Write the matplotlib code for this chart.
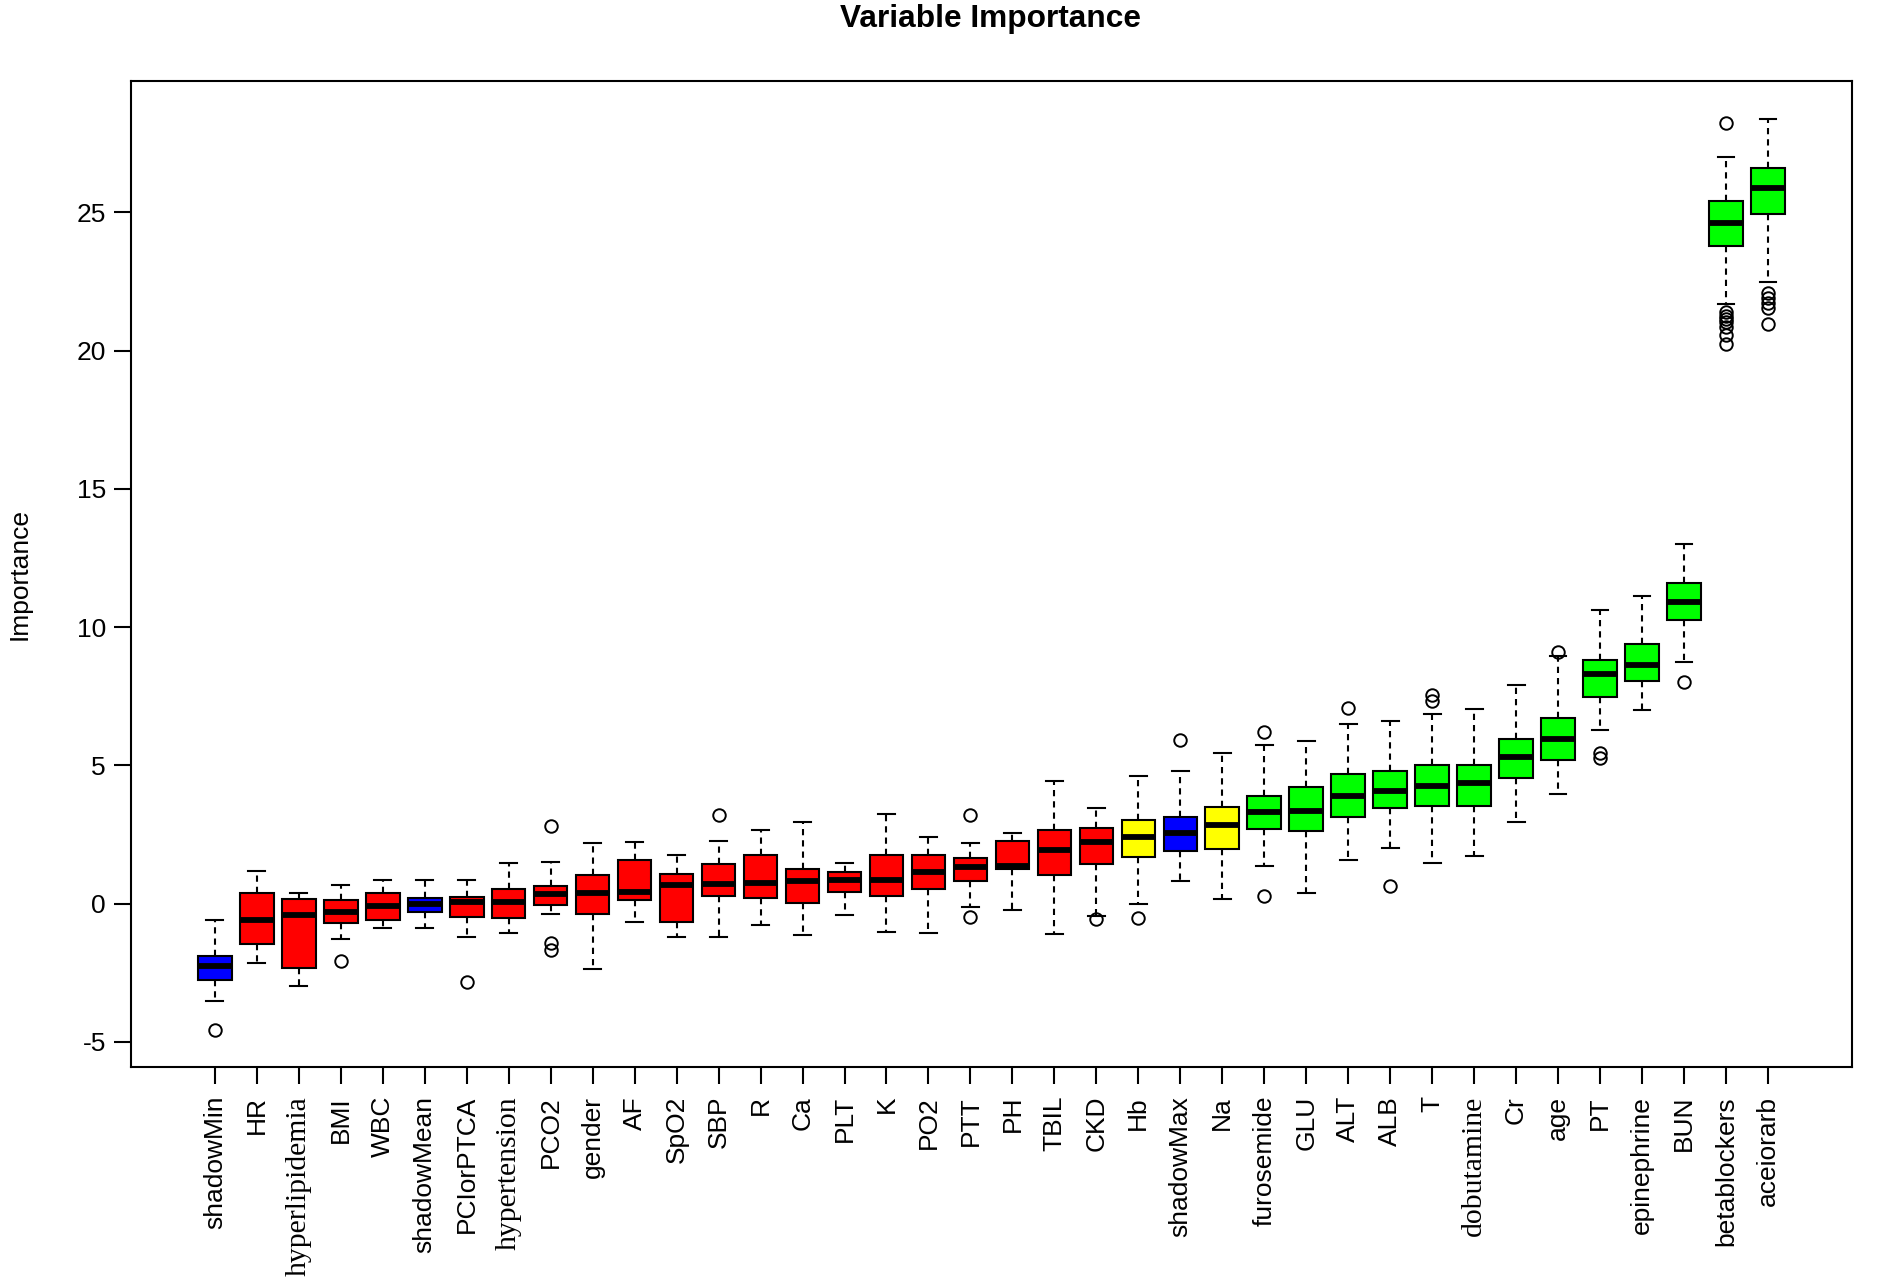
import matplotlib
matplotlib.use("Agg")
import matplotlib.pyplot as plt

names = ["shadowMin", "HR", "hyperlipidemia", "BMI", "WBC", "shadowMean", "PCIorPTCA",
         "hypertension", "PCO2", "gender", "AF", "SpO2", "SBP", "R", "Ca", "PLT", "K",
         "PO2", "PTT", "PH", "TBIL", "CKD", "Hb", "shadowMax", "Na", "furosemide", "GLU",
         "ALT", "ALB", "T", "dobutamine", "Cr", "age", "PT", "epinephrine", "BUN",
         "betablockers", "aceiorarb"]

decision = ["shadow", "rejected", "rejected", "rejected", "rejected", "shadow", "rejected",
            "rejected", "rejected", "rejected", "rejected", "rejected", "rejected", "rejected",
            "rejected", "rejected", "rejected", "rejected", "rejected", "rejected", "rejected",
            "rejected", "tentative", "shadow", "tentative", "confirmed", "confirmed",
            "confirmed", "confirmed", "confirmed", "confirmed", "confirmed", "confirmed",
            "confirmed", "confirmed", "confirmed", "confirmed", "confirmed"]

whishi = [-0.61, 1.17, 0.37, 0.69, 0.85, 0.87, 0.84, 1.48, 1.52, 2.19, 2.23, 1.76, 2.25,
          2.65, 2.95, 1.47, 3.25, 2.41, 2.18, 2.54, 4.45, 3.46, 4.63, 4.78, 5.44, 5.75,
          5.89, 6.48, 6.59, 6.84, 7.03, 7.91, 8.94, 10.62, 11.14, 13.01, 27.01, 28.39]
q3 = [-1.89, 0.37, 0.17, 0.13, 0.40, 0.22, 0.25, 0.54, 0.65, 1.05, 1.58, 1.06, 1.42,
      1.77, 1.24, 1.16, 1.75, 1.76, 1.66, 2.28, 2.66, 2.72, 3.04, 3.12, 3.48, 3.91,
      4.23, 4.70, 4.81, 5.02, 5.02, 5.96, 6.70, 8.82, 9.38, 11.58, 25.40, 26.60]
med = [-2.27, -0.61, -0.42, -0.29, -0.07, -0.01, 0.05, 0.05, 0.35, 0.38, 0.42, 0.67, 0.72,
       0.75, 0.83, 0.85, 0.87, 1.14, 1.31, 1.36, 1.93, 2.24, 2.41, 2.54, 2.85, 3.30,
       3.34, 3.90, 4.09, 4.25, 4.36, 5.32, 5.94, 8.30, 8.64, 10.90, 24.61, 25.88]
q1 = [-2.77, -1.47, -2.33, -0.70, -0.59, -0.31, -0.47, -0.53, -0.05, -0.38, 0.14, -0.66,
      0.27, 0.20, 0.04, 0.42, 0.27, 0.52, 0.83, 1.26, 1.02, 1.44, 1.68, 1.92, 1.97, 2.69,
      2.64, 3.13, 3.44, 3.54, 3.53, 4.54, 5.21, 7.46, 8.06, 10.26, 23.77, 24.95]
whislo = [-3.53, -2.15, -2.99, -1.29, -0.90, -0.88, -1.21, -1.05, -0.36, -2.35, -0.65,
          -1.21, -1.22, -0.76, -1.12, -0.41, -1.03, -1.08, -0.12, -0.23, -1.10, -0.45,
          -0.01, 0.82, 0.18, 1.36, 0.37, 1.56, 2.01, 1.47, 1.72, 2.96, 3.95, 6.29, 6.99,
          8.73, 21.70, 22.49]

outlier_names = ["shadowMin", "BMI", "PCIorPTCA", "PCO2", "SBP", "PTT", "CKD", "Hb",
                 "shadowMax", "furosemide", "ALT", "ALB", "T", "age", "PT", "BUN",
                 "betablockers", "aceiorarb"]
outlier_values = [[-4.58], [-2.06], [-2.82], [2.80, -1.41, -1.69], [3.21], [3.21, -0.48],
                  [-0.54], [-0.51], [5.91], [6.22, 0.29], [7.09], [0.65], [7.53, 7.31],
                  [9.09], [5.45, 5.25], [8.01],
                  [28.25, 21.38, 21.26, 21.14, 21.02, 20.84, 20.57, 20.24],
                  [22.10, 21.92, 21.74, 21.54, 20.96]]

yticks = [-5, 0, 5, 10, 15, 20, 25]
serif_labels = ["hyperlipidemia", "hypertension", "dobutamine"]

palette = {"shadow": "#0000FF", "rejected": "#FF0000",
           "tentative": "#FFFF00", "confirmed": "#00FF00"}

fig = plt.figure(figsize=(19, 12.78), dpi=100)
ax = fig.add_axes([0.0689, 0.1653, 0.9058, 0.7713])

stats = []
for i, n in enumerate(names):
    fl = outlier_values[outlier_names.index(n)] if n in outlier_names else []
    stats.append(dict(label=n, q1=q1[i], med=med[i], q3=q3[i],
                      whislo=whislo[i], whishi=whishi[i], fliers=fl))

positions = list(range(1, len(names) + 1))
bp = ax.bxp(stats, positions=positions, widths=0.8, patch_artist=True,
            boxprops=dict(linewidth=1.5, edgecolor="black"),
            medianprops=dict(color="black", linewidth=4.2, solid_capstyle="butt"),
            whiskerprops=dict(color="black", linewidth=1.5, linestyle=(0, (3.0, 2.4))),
            capprops=dict(color="black", linewidth=1.5),
            capwidths=0.4,
            flierprops=dict(marker="o", markersize=9, markerfacecolor="none",
                            markeredgecolor="black", markeredgewidth=1.4, linestyle="none"))
for patch, d in zip(bp["boxes"], decision):
    patch.set_facecolor(palette[d])

ax.set_xlim(-1.0, 40.0)
ax.set_ylim(-5.9, 29.75)
ax.set_yticks(yticks)
ax.set_yticklabels([str(t) for t in yticks], fontsize=19, family="Liberation Sans")
ax.set_xticks(positions)
ax.set_xticklabels(names, rotation=90, fontsize=19, family="Liberation Sans",
                   va="top", ha="center")
for lab in ax.get_xticklabels():
    if lab.get_text() in serif_labels:
        lab.set_family("Liberation Serif")
        lab.set_fontsize(21.3)
ax.tick_params(axis="both", direction="out", length=12, width=1.5, color="black")
ax.tick_params(axis="y", pad=6)
ax.tick_params(axis="x", pad=9)
for s in ax.spines.values():
    s.set_linewidth(1.5)

ax.set_ylabel("Importance", fontsize=19, family="Liberation Sans", labelpad=32)
fig.text(0.5215, 0.997, "Variable Importance", fontsize=22.8, fontweight="bold",
         family="Liberation Sans", ha="center", va="top")

fig.savefig("out.png", dpi=100)
